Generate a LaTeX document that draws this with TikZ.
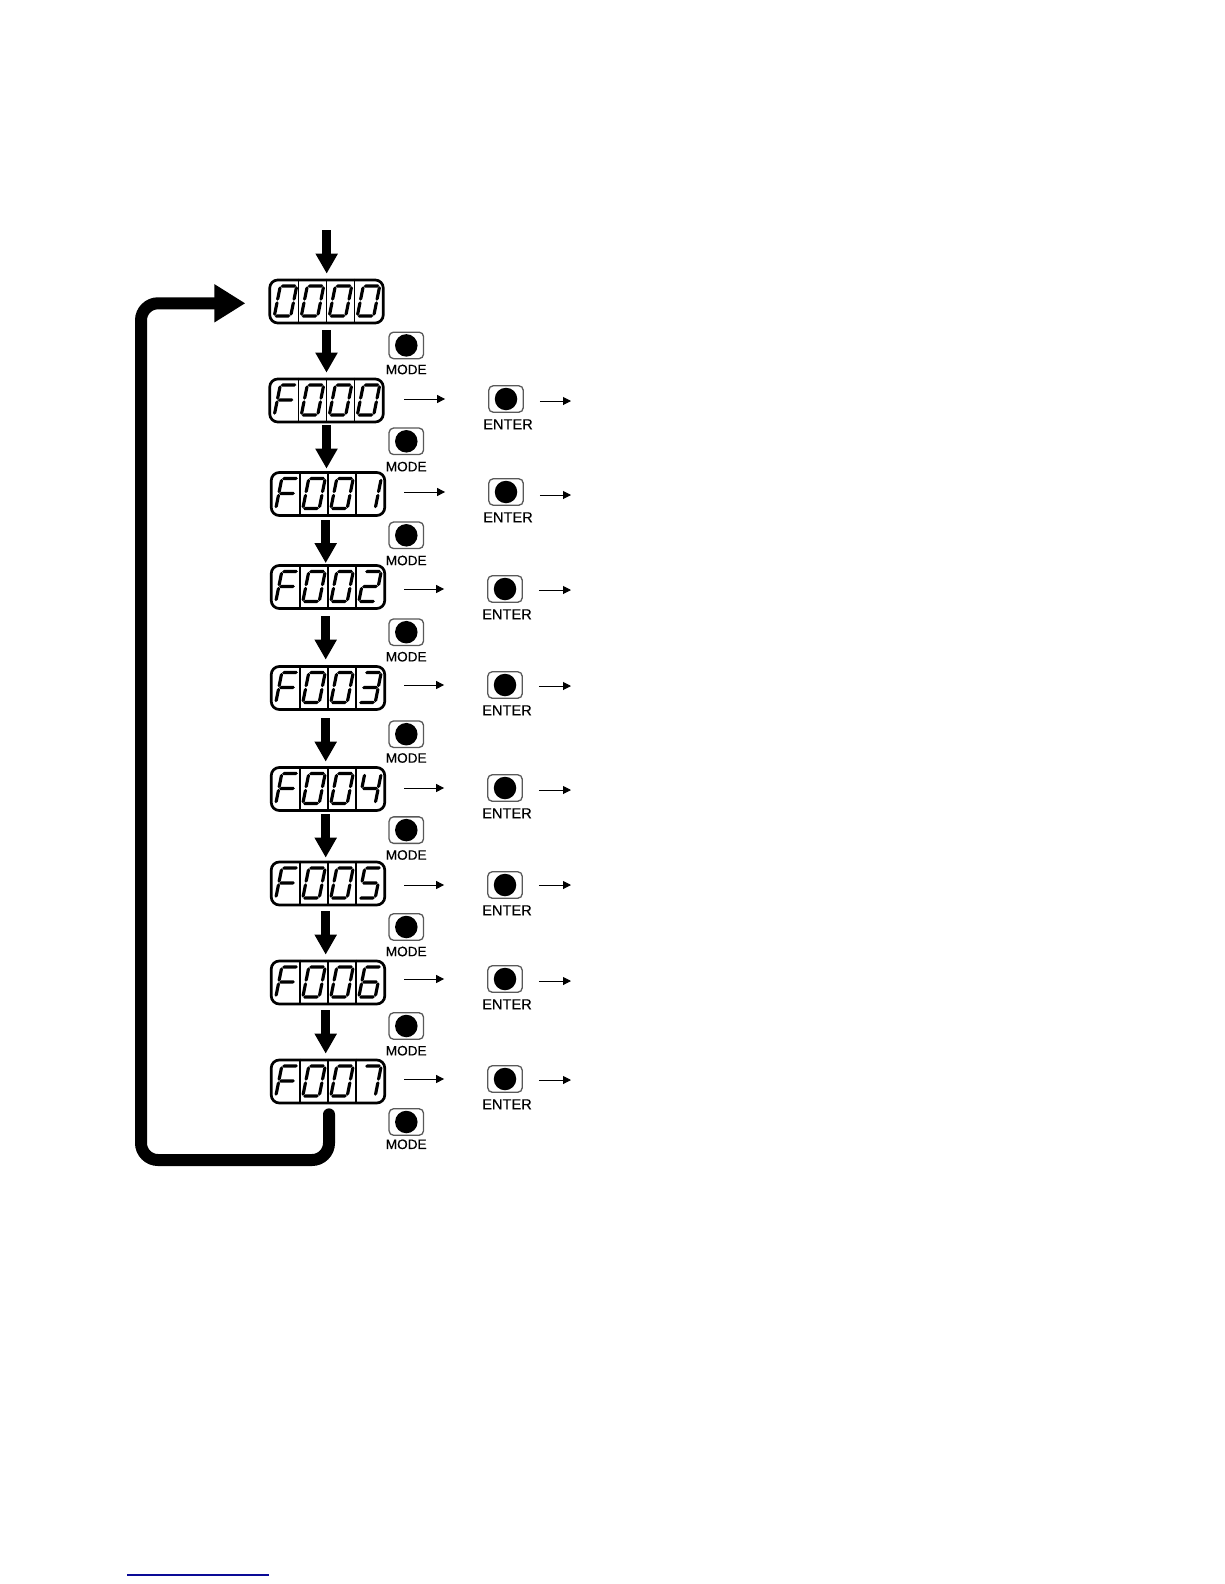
\documentclass[tikz,border=0pt]{standalone}
\usepackage{fontspec}
\setmainfont{Liberation Sans}
\newfontfamily\lblfont[FakeBold=0.35]{Liberation Sans}
\usetikzlibrary{arrows.meta,calc}
\newcommand\hsg[3]{\fill (#1,#3) -- (#1+1.6,#3-1.6) -- (#2-1.6,#3-1.6) -- (#2,#3) -- (#2-1.6,#3+1.6) -- (#1+1.6,#3+1.6) -- cycle;}
\newcommand\vsg[3]{\fill (#1,#2) -- (#1+1.6,#2+1.6) -- (#1+1.6,#3-1.6) -- (#1,#3) -- (#1-1.6,#3-1.6) -- (#1-1.6,#2+1.6) -- cycle;}
\newcommand\sgA{\hsg{-7.8}{7.8}{-15}}
\newcommand\sgB{\vsg{8.2}{-14.7}{-0.3}}
\newcommand\sgC{\vsg{8.2}{0.3}{14.7}}
\newcommand\sgD{\hsg{-7.8}{7.8}{15}}
\newcommand\sgE{\vsg{-8.2}{0.3}{14.7}}
\newcommand\sgF{\vsg{-8.2}{-14.7}{-0.3}}
\newcommand\sgG{\hsg{-7.8}{7.8}{0}}
\newcommand\dgZero{\sgA\sgB\sgC\sgD\sgE\sgF}
\newcommand\dgOne{\sgB\sgC}
\newcommand\dgTwo{\sgA\sgB\sgG\sgE\sgD}
\newcommand\dgThree{\sgA\sgB\sgG\sgC\sgD}
\newcommand\dgFour{\sgF\sgG\sgB\sgC}
\newcommand\dgFive{\sgA\sgF\sgG\sgC\sgD}
\newcommand\dgSix{\sgA\sgF\sgG\sgE\sgC\sgD}
\newcommand\dgSeven{\sgA\sgB\sgC}
\newcommand\dgF{\sgA\sgF\sgG\sgE}
\newcommand\lcdpanel[7]{%
  \node[lcd] (#1) at (#2,#3) {};
  \draw[divider] ($(#1.north)+(-28,0)$) -- ($(#1.south)+(-28,0)$);
  \draw[divider] (#1.north) -- (#1.south);
  \draw[divider] ($(#1.north)+(28,0)$) -- ($(#1.south)+(28,0)$);
  \begin{scope}[shift={(#2-41,#3-0.5)},xslant=.2]#4\end{scope}
  \begin{scope}[shift={(#2-14,#3-0.5)},xslant=.2]#5\end{scope}
  \begin{scope}[shift={(#2+14,#3-0.5)},xslant=.2]#6\end{scope}
  \begin{scope}[shift={(#2+42,#3-0.5)},xslant=.2]#7\end{scope}
}
\tikzset{
  lcd/.style={draw=black,line width=2.7pt,rounded corners=8pt,minimum width=113.5pt,minimum height=43pt,inner sep=0pt},
  divider/.style={black,line width=1.6pt},
  btn/.style={draw=black!65,line width=1.3pt,rounded corners=4.5pt,minimum width=34.5pt,minimum height=26.5pt,inner sep=0pt,fill=white},
  btndot/.style={circle,fill=black,minimum size=22.5pt,inner sep=0pt},
  btnlabel/.style={inner sep=0pt,text=black},
  mainarrow/.style={line width=9pt,-{Triangle[length=20pt,width=21pt]},black},
  looparrow/.style={line width=12pt,line cap=round,rounded corners=17pt,-{Triangle[length=31pt,width=36pt]},black},
  thinarrow/.style={line width=1pt,-{Triangle[length=8pt,width=8pt]},black},
}
\begin{document}
\begin{tikzpicture}[x=1pt,y=-1pt]
\useasboundingbox (0,0) rectangle (1224,1584);
\fill[white] (0,0) rectangle (1224,1584);
% displays
\lcdpanel{d0}{326.5}{301.5}{\dgZero}{\dgZero}{\dgZero}{\dgZero}
\lcdpanel{d1}{326.5}{400.5}{\dgF}{\dgZero}{\dgZero}{\dgZero}
\lcdpanel{d2}{328}{494}{\dgF}{\dgZero}{\dgZero}{\dgOne}
\lcdpanel{d3}{328}{587}{\dgF}{\dgZero}{\dgZero}{\dgTwo}
\lcdpanel{d4}{328}{688}{\dgF}{\dgZero}{\dgZero}{\dgThree}
\lcdpanel{d5}{328}{789}{\dgF}{\dgZero}{\dgZero}{\dgFour}
\lcdpanel{d6}{328}{883.5}{\dgF}{\dgZero}{\dgZero}{\dgFive}
\lcdpanel{d7}{328}{982.5}{\dgF}{\dgZero}{\dgZero}{\dgSix}
\lcdpanel{d8}{328}{1081.5}{\dgF}{\dgZero}{\dgZero}{\dgSeven}
% MODE buttons
\foreach \i/\yy/\ly in {1/345.4/369.5,2/441.3/466.6,3/535.3/560.5,4/632.2/656.7,5/734.2/758,6/830.1/855,7/927/951.5,8/1026/1050.7,9/1122/1144.3}{
  \node[btn] (m\i) at (406.3,\yy) {};
  \node[btndot] (md\i) at (m\i) {};
  \node[btnlabel,font=\lblfont\fontsize{13.6}{14}\selectfont] (ml\i) at (406.2,\ly) {MODE};
}
% ENTER buttons and thin arrows
\foreach \i/\yy/\xx/\ry in {1/399/506/401,2/492/506/495,3/589/505/590,4/685/505/686,5/788/505/790,6/885/505/885,7/979/505/981,8/1079/505/1080}{
  \node[btn] (e\i) at (\xx,\yy) {};
  \node[btndot] (ed\i) at (e\i) {};
  \node[btnlabel,font=\lblfont\fontsize{14.6}{15}\selectfont] (el\i) at ($(e\i)+(2,25.3)$) {ENTER};
  \coordinate (r\i) at (571,\ry);
}
\begin{scope}[yshift=-0.6pt]
\draw[thinarrow,shorten <=19.5pt,shorten >=43pt] (d1.east |- e1.west) -- (e1.west);
\draw[thinarrow,shorten <=18pt,shorten >=43pt] (d2.east |- e2.west) -- (e2.west);
\draw[thinarrow,shorten <=18pt,shorten >=43pt] (d3.east |- e3.west) -- (e3.west);
\draw[thinarrow,shorten <=18pt,shorten >=43pt] (d4.east |- e4.west) -- (e4.west);
\draw[thinarrow,shorten <=18pt,shorten >=43pt] (d5.east |- e5.west) -- (e5.west);
\draw[thinarrow,shorten <=18pt,shorten >=43pt] (d6.east |- e6.west) -- (e6.west);
\draw[thinarrow,shorten <=18pt,shorten >=43pt] (d7.east |- e7.west) -- (e7.west);
\draw[thinarrow,shorten <=18pt,shorten >=43pt] (d8.east |- e8.west) -- (e8.west);
\end{scope}
\foreach \i in {1,...,8}{
  \draw[thinarrow,shorten <=16pt] (e\i.east |- r\i) -- (r\i);
}
% main arrows
\coordinate (start) at (326.7,230);
\draw[mainarrow,shorten >=5pt] (start) -- (start |- d0.north);
\draw[mainarrow,shorten <=6pt,shorten >=5pt] (d0.south) -- (d1.north);
\draw[mainarrow,shorten <=2pt,shorten >=2.5pt] ($(d1.south)+(0,0)$) -- ($(d2.north)+(-1.5,0)$);
\draw[mainarrow,shorten <=3.5pt,shorten >=1pt] ($(d2.south)+(-2.3,0)$) -- ($(d3.north)+(-2.3,0)$);
\draw[mainarrow,shorten <=6.5pt,shorten >=5.5pt] ($(d3.south)+(-2.3,0)$) -- ($(d4.north)+(-2.3,0)$);
\draw[mainarrow,shorten <=7.5pt,shorten >=4.5pt] ($(d4.south)+(-2.3,0)$) -- ($(d5.north)+(-2.3,0)$);
\draw[mainarrow,shorten <=2.5pt,shorten >=3pt] ($(d5.south)+(-2.3,0)$) -- ($(d6.north)+(-2.3,0)$);
\draw[mainarrow,shorten <=5pt,shorten >=5pt] ($(d6.south)+(-2.3,0)$) -- ($(d7.north)+(-2.3,0)$);
\draw[mainarrow,shorten <=5pt,shorten >=5pt] ($(d7.south)+(-2.3,0)$) -- ($(d8.north)+(-2.3,0)$);
% return loop
\coordinate (la) at (329,1160);
\coordinate (lb) at (141,1160);
\coordinate (lc) at (141,303.3);
\draw[looparrow,shorten >=23pt] ($(d8.south)+(1,10)$) -- (la) -- (lb) -- (lc) -- (lc -| d0.west);
% rule at the foot of the page
\coordinate (fa) at (127,1575);
\coordinate (fb) at (269,1575);
\draw[color={rgb,255:red,10;green,10;blue,150},line width=1.2pt] (fa) -- (fb);
\end{tikzpicture}
\end{document}
